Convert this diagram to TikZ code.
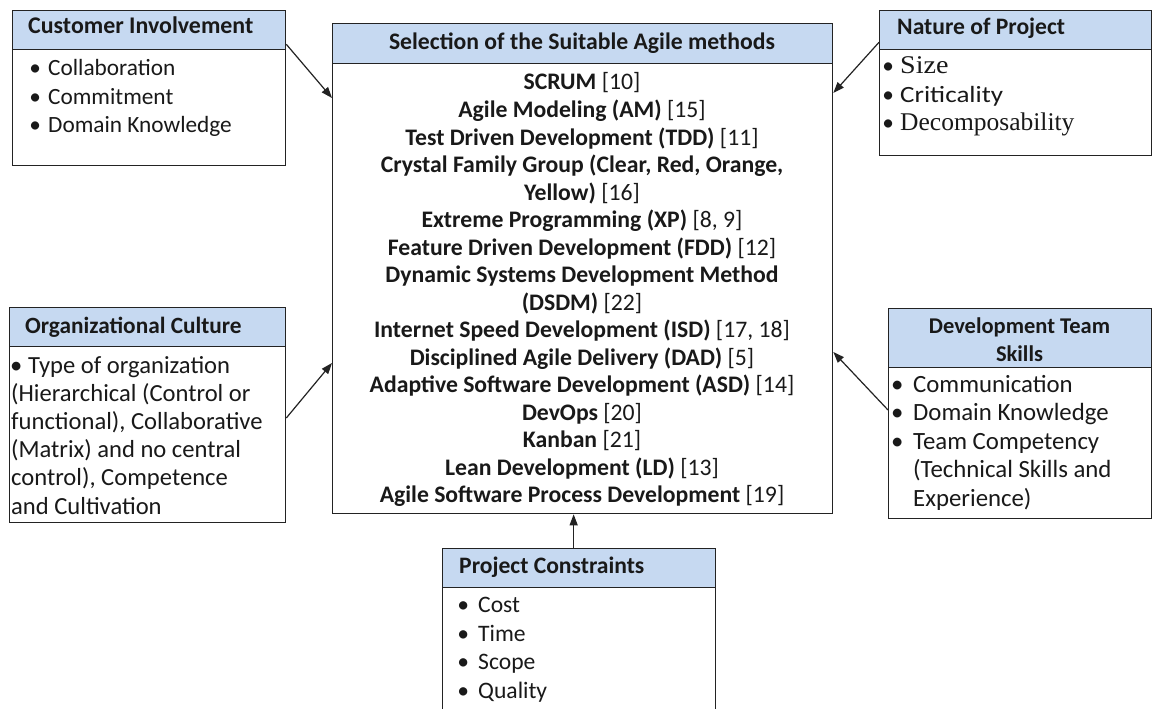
\documentclass[tikz,border=0pt]{standalone}
\usepackage{fontspec}
\setmainfont{Carlito}
\newfontfamily\serifalt{Liberation Serif}
\usetikzlibrary{arrows.meta}
\definecolor{hdrblue}{RGB}{198,217,241}
\definecolor{edge}{RGB}{35,35,35}
\newcommand{\bul}[1]{\makebox[10pt]{•}\hspace{#1}}
\begin{document}
\begin{tikzpicture}[x=1pt,y=-1pt,
  hdr/.style={draw=edge, line width=1.3pt, fill=hdrblue, anchor=north west, inner sep=0pt},
  bdy/.style={draw=edge, line width=1.3pt, fill=white, anchor=north west, inner sep=0pt},
  txt/.style={font={\fontsize{23.3}{28.5}\selectfont}, inner sep=0pt, anchor=base west, text=black!90},
  ctxt/.style={txt, anchor=base},
  arr/.style={draw=edge, line width=1.2pt, -{Triangle[length=11pt,width=8pt]}}]
\clip (0,0) rectangle (1152,709);
\fill[white] (0,0) rectangle (1152,709);

% boxes
\node[hdr, minimum width=273pt, minimum height=39pt] (custhead) at (12,10) {};
\node[bdy, minimum width=273pt, minimum height=116pt] (custbody) at (12,49) {};
\node[hdr, minimum width=500pt, minimum height=40pt] (cenhead) at (332,23) {};
\node[bdy, minimum width=500pt, minimum height=450pt] (cenbody) at (332,63) {};
\node[hdr, minimum width=272pt, minimum height=39pt] (nathead) at (879,10) {};
\node[bdy, minimum width=272pt, minimum height=106pt] (natbody) at (879,49) {};
\node[hdr, minimum width=276pt, minimum height=39pt] (orghead) at (9,307) {};
\node[bdy, minimum width=276pt, minimum height=176pt] (orgbody) at (9,346) {};
\node[hdr, minimum width=263pt, minimum height=59pt] (devhead) at (888,308) {};
\node[bdy, minimum width=263pt, minimum height=151pt] (devbody) at (888,367) {};
\node[hdr, minimum width=273pt, minimum height=39pt] (projhead) at (442,548) {};
\node[bdy, minimum width=273pt, minimum height=160pt] (projbody) at (442,587) {};

% titles
\node[txt, font={\fontsize{23.9}{28.5}\selectfont}] (custtitle) at (28,34) {\textbf{Customer Involvement}};
\node[ctxt, font={\fontsize{23.7}{28.5}\selectfont}] (centitle) at (582,50) {\textbf{Selection of the Suitable Agile methods}};
\node[txt, font={\fontsize{23.6}{28.5}\selectfont}] (nattitle) at (897,35) {\textbf{Nature of Project}};
\node[txt] (orgtitle) at (25,333) {\textbf{Organizational Culture}};
\node[ctxt, font={\fontsize{22.5}{28}\selectfont}] (devtitle) at (1019.5,333) {\begin{tabular}[t]{@{}c@{}}\textbf{Development Team}\\\textbf{Skills}\end{tabular}};
\node[txt, font={\fontsize{23.6}{28.5}\selectfont}] (projtitle) at (459,573) {\textbf{Project Constraints}};

% lists
\node[txt] (custlist) at (30,76) {\begin{tabular}[t]{@{}l@{}}
\bul{8pt}Collaboration\\
\bul{8pt}Commitment\\
\bul{8pt}Domain Knowledge
\end{tabular}};

\node[ctxt, font={\fontsize{23.7}{27.53}\selectfont}] (cenlist) at (582,90) {\begin{tabular}[t]{@{}c@{}}
\textbf{SCRUM} [10]\\
\textbf{Agile Modeling (AM)} [15]\\
\textbf{Test Driven Development (TDD)} [11]\\
\textbf{Crystal Family Group (Clear, Red, Orange,}\\
\textbf{Yellow)} [16]\\
\textbf{Extreme Programming (XP)} [8, 9]\\
\textbf{Feature Driven Development (FDD)} [12]\\
\textbf{Dynamic Systems Development Method}\\
\textbf{(DSDM)} [22]\\
\textbf{Internet Speed Development (ISD)} [17, 18]\\
\textbf{Disciplined Agile Delivery (DAD)} [5]\\
\textbf{Adaptive Software Development (ASD)} [14]\\
\textbf{DevOps} [20]\\
\textbf{Kanban} [21]\\
\textbf{Lean Development (LD)} [13]\\
\textbf{Agile Software Process Development} [19]
\end{tabular}};

\node[txt] (natlist) at (883,74) {\begin{tabular}[t]{@{}l@{}}
\bul{7pt}{\serifalt\fontsize{25.5}{28.5}\selectfont\addfontfeature{FakeStretch=1.1}Size}\\
\bul{7pt}{\addfontfeature{FakeStretch=1.16}Criticality}\\
\bul{7pt}{\serifalt\fontsize{25.5}{28.5}\selectfont Decomposability}
\end{tabular}};

\node[txt, font={\fontsize{24.6}{28.2}\selectfont}] (orglist) at (11,373) {\begin{tabular}[t]{@{}l@{}}
\makebox[10pt]{•}\hspace{7pt}Type of organization\\
(Hierarchical (Control or\\
functional), Collaborative\\
(Matrix) and no central\\
control), Competence\\
and Cultivation
\end{tabular}};

\node[txt, font={\fontsize{24.8}{28.5}\selectfont}] (devlist) at (892,392) {\begin{tabular}[t]{@{}l@{}}
\bul{11pt}Communication\\
\bul{11pt}Domain Knowledge\\
\bul{11pt}Team Competency\\
\hspace{21pt}(Technical Skills and\\
\hspace{21pt}Experience)
\end{tabular}};

\node[txt, font={\fontsize{23.6}{28.5}\selectfont}] (projlist) at (458,612.7) {\begin{tabular}[t]{@{}l@{}}
\bul{10pt}Cost\\
\bul{10pt}Time\\
\bul{10pt}Scope\\
\bul{10pt}Quality
\end{tabular}};

% connectors
\draw[arr] ([yshift=6pt]custhead.south east) -- ([yshift=-35pt]cenbody.north west);
\draw[arr] ([yshift=8pt]nathead.south west) -- ([yshift=-30pt]cenbody.north east);
\draw[arr] ([yshift=-72pt]orgbody.north east) -- ([yshift=-300pt]cenbody.north west);
\draw[arr] ([yshift=-43pt]devbody.north west) -- ([yshift=-289pt]cenbody.north east);
\draw[arr] ([xshift=-5.5pt]projhead.north) coordinate (pc) -- (pc |- cenbody.south);
\end{tikzpicture}
\end{document}
